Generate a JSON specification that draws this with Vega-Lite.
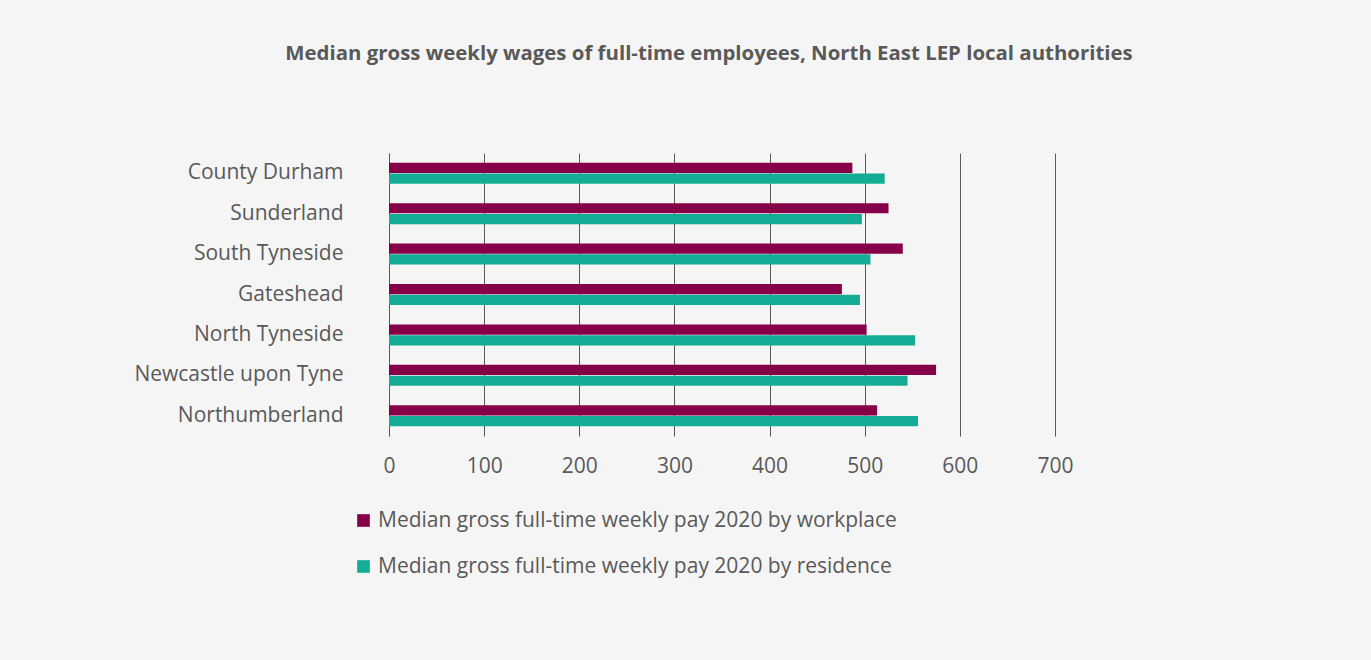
{
  "$schema": "https://vega.github.io/schema/vega-lite/v6.json",
  "autosize": "none",
  "width": 666,
  "height": 283,
  "padding": {"left": 389, "top": 153, "right": 316, "bottom": 224},
  "background": "#f5f5f5",
  "title": {
    "text": "Median gross weekly wages of full-time employees, North East LEP local authorities",
    "font": "Open Sans",
    "fontSize": 20.4,
    "fontWeight": "bold",
    "color": "#595959",
    "anchor": "middle",
    "dx": -13,
    "offset": 89
  },
  "config": {
    "view": {"stroke": null},
    "font": "Open Sans"
  },
  "data": {
    "values": [
      {"area": "County Durham", "measure": "Median gross full-time weekly pay 2020 by workplace", "value": 487},
      {"area": "County Durham", "measure": "Median gross full-time weekly pay 2020 by residence", "value": 521},
      {"area": "Sunderland", "measure": "Median gross full-time weekly pay 2020 by workplace", "value": 525},
      {"area": "Sunderland", "measure": "Median gross full-time weekly pay 2020 by residence", "value": 497},
      {"area": "South Tyneside", "measure": "Median gross full-time weekly pay 2020 by workplace", "value": 540},
      {"area": "South Tyneside", "measure": "Median gross full-time weekly pay 2020 by residence", "value": 506},
      {"area": "Gateshead", "measure": "Median gross full-time weekly pay 2020 by workplace", "value": 476},
      {"area": "Gateshead", "measure": "Median gross full-time weekly pay 2020 by residence", "value": 495},
      {"area": "North Tyneside", "measure": "Median gross full-time weekly pay 2020 by workplace", "value": 502},
      {"area": "North Tyneside", "measure": "Median gross full-time weekly pay 2020 by residence", "value": 553},
      {"area": "Newcastle upon Tyne", "measure": "Median gross full-time weekly pay 2020 by workplace", "value": 575},
      {"area": "Newcastle upon Tyne", "measure": "Median gross full-time weekly pay 2020 by residence", "value": 545},
      {"area": "Northumberland", "measure": "Median gross full-time weekly pay 2020 by workplace", "value": 513},
      {"area": "Northumberland", "measure": "Median gross full-time weekly pay 2020 by residence", "value": 556}
    ]
  },
  "mark": {"type": "bar"},
  "encoding": {
    "y": {
      "field": "area",
      "type": "nominal",
      "sort": ["County Durham", "Sunderland", "South Tyneside", "Gateshead", "North Tyneside", "Newcastle upon Tyne", "Northumberland"],
      "scale": {"paddingInner": 0.48, "paddingOuter": 0.24},
      "axis": {
        "title": null,
        "ticks": false,
        "domain": true,
        "domainColor": "#595959",
        "domainWidth": 1,
        "labelFont": "Open Sans",
        "labelFontSize": 21,
        "labelColor": "#595959",
        "labelPadding": 46,
        "labelLimit": 400
      }
    },
    "yOffset": {
      "field": "measure",
      "type": "nominal",
      "sort": ["Median gross full-time weekly pay 2020 by workplace", "Median gross full-time weekly pay 2020 by residence"],
      "scale": {"paddingInner": 0.05}
    },
    "x": {
      "field": "value",
      "type": "quantitative",
      "scale": {"domain": [0, 700]},
      "axis": {
        "title": null,
        "values": [0, 100, 200, 300, 400, 500, 600, 700],
        "grid": true,
        "gridColor": "#595959",
        "gridWidth": 1,
        "ticks": false,
        "domain": false,
        "labelFlush": false,
        "labelFont": "Open Sans",
        "labelFontSize": 21,
        "labelColor": "#595959",
        "labelPadding": 19
      }
    },
    "color": {
      "field": "measure",
      "type": "nominal",
      "sort": ["Median gross full-time weekly pay 2020 by workplace", "Median gross full-time weekly pay 2020 by residence"],
      "scale": {"range": ["#860049", "#15ac95"]},
      "legend": {
        "title": null,
        "orient": "none",
        "legendX": -36,
        "legendY": 357,
        "direction": "vertical",
        "symbolType": "square",
        "symbolSize": 160,
        "symbolStrokeWidth": 0,
        "labelFont": "Open Sans",
        "labelFontSize": 21,
        "labelColor": "#595959",
        "labelLimit": 800,
        "rowPadding": 24,
        "symbolOffset": 0,
        "labelOffset": 4
      }
    }
  }
}
